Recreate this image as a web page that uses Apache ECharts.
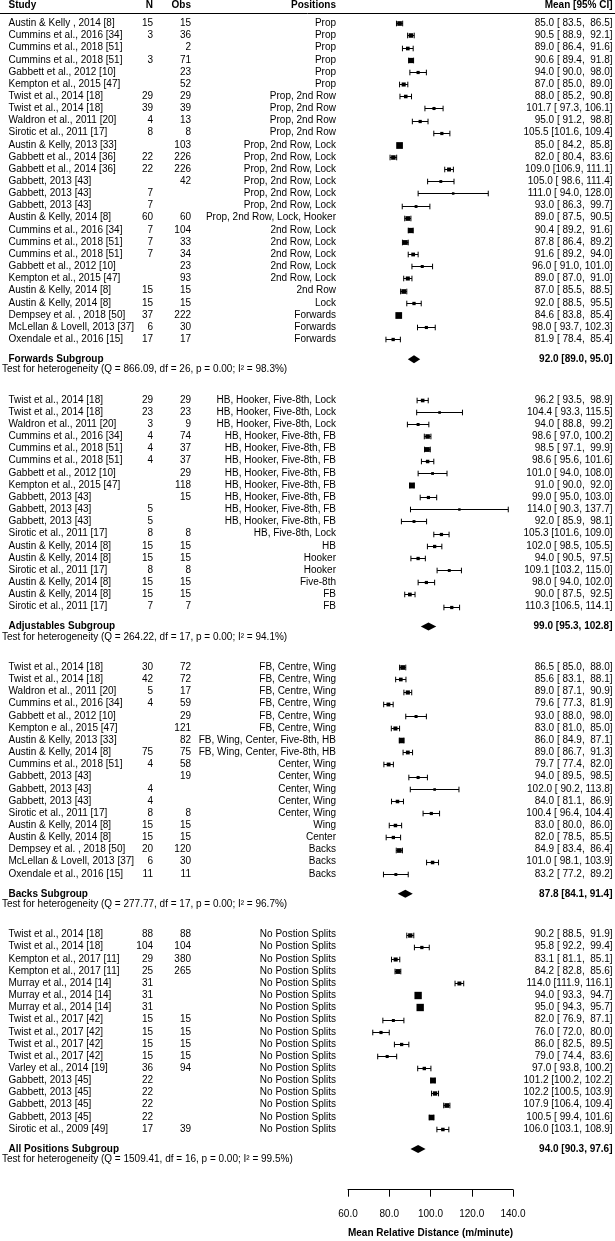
<!DOCTYPE html>
<html><head><meta charset="utf-8">
<script src="https://cdn.jsdelivr.net/npm/echarts@6/dist/echarts.min.js"></script>
<style>html,body{margin:0;padding:0;background:#fff}#c{width:615px;height:1241px}</style>
</head><body><div id="c"></div>
<script>
// ---------------- DATA ----------------
const headers = ['Study', 'N', 'Obs', 'Positions', 'Mean [95% CI]'];
const groupNames = ['Forwards Subgroup', 'Adjustables Subgroup', 'Backs Subgroup', 'All Positions Subgroup'];
const groupSizes = [27, 18, 18, 17];

const studies = [
  // Forwards
  'Austin & Kelly , 2014 [8]', 'Cummins et al., 2016 [34]', 'Cummins et al., 2018 [51]', 'Cummins et al., 2018 [51]',
  'Gabbett et al., 2012 [10]', 'Kempton et al., 2015 [47]', 'Twist et al., 2014 [18]', 'Twist et al., 2014 [18]',
  'Waldron et al., 2011 [20]', 'Sirotic et al., 2011 [17]', 'Austin & Kelly, 2013 [33]', 'Gabbett et al., 2014 [36]',
  'Gabbett et al., 2014 [36]', 'Gabbett, 2013 [43]', 'Gabbett, 2013 [43]', 'Gabbett, 2013 [43]',
  'Austin & Kelly, 2014 [8]', 'Cummins et al., 2016 [34]', 'Cummins et al., 2018 [51]', 'Cummins et al., 2018 [51]',
  'Gabbett et al., 2012 [10]', 'Kempton et al., 2015 [47]', 'Austin & Kelly, 2014 [8]', 'Austin & Kelly, 2014 [8]',
  'Dempsey et al. , 2018 [50]', 'McLellan & Lovell, 2013 [37]', 'Oxendale et al., 2016 [15]',
  // Adjustables
  'Twist et al., 2014 [18]', 'Twist et al., 2014 [18]', 'Waldron et al., 2011 [20]', 'Cummins et al., 2016 [34]',
  'Cummins et al., 2018 [51]', 'Cummins et al., 2018 [51]', 'Gabbett et al., 2012 [10]', 'Kempton et al., 2015 [47]',
  'Gabbett, 2013 [43]', 'Gabbett, 2013 [43]', 'Gabbett, 2013 [43]', 'Sirotic et al., 2011 [17]',
  'Austin & Kelly, 2014 [8]', 'Austin & Kelly, 2014 [8]', 'Sirotic et al., 2011 [17]', 'Austin & Kelly, 2014 [8]',
  'Austin & Kelly, 2014 [8]', 'Sirotic et al., 2011 [17]',
  // Backs
  'Twist et al., 2014 [18]', 'Twist et al., 2014 [18]', 'Waldron et al., 2011 [20]', 'Cummins et al., 2016 [34]',
  'Gabbett et al., 2012 [10]', 'Kempton e al., 2015 [47]', 'Austin & Kelly, 2013 [33]', 'Austin & Kelly, 2014 [8]',
  'Cummins et al., 2018 [51]', 'Gabbett, 2013 [43]', 'Gabbett, 2013 [43]', 'Gabbett, 2013 [43]',
  'Sirotic et al., 2011 [17]', 'Austin & Kelly, 2014 [8]', 'Austin & Kelly, 2014 [8]', 'Dempsey et al. , 2018 [50]',
  'McLellan & Lovell, 2013 [37]', 'Oxendale et al., 2016 [15]',
  // No position splits
  'Twist et al., 2014 [18]', 'Twist et al., 2014 [18]', 'Kempton et al., 2017 [11]', 'Kempton et al., 2017 [11]',
  'Murray et al., 2014 [14]', 'Murray et al., 2014 [14]', 'Murray et al., 2014 [14]', 'Twist et al., 2017 [42]',
  'Twist et al., 2017 [42]', 'Twist et al., 2017 [42]', 'Twist et al., 2017 [42]', 'Varley et al., 2014 [19]',
  'Gabbett, 2013 [45]', 'Gabbett, 2013 [45]', 'Gabbett, 2013 [45]', 'Gabbett, 2013 [45]',
  'Sirotic et al., 2009 [49]'
];

const nValues = [
  15, 3, '', 3, '', '', 29, 39, 4, 8, '', 22, 22, '', 7, 7, 60, 7, 7, 7, '', '', 15, 15, 37, 6, 17,
  29, 23, 3, 4, 4, 4, '', '', '', 5, 5, 8, 15, 15, 8, 15, 15, 7,
  30, 42, 5, 4, '', '', '', 75, 4, '', 4, 4, 8, 15, 15, 20, 6, 11,
  88, 104, 29, 25, 31, 31, 31, 15, 15, 15, 15, 36, 22, 22, 22, 22, 17
];

const obsValues = [
  15, 36, 2, 71, 23, 52, 29, 39, 13, 8, 103, 226, 226, 42, '', '', 60, 104, 33, 34, 23, 93, 15, 15, 222, 30, 17,
  29, 23, 9, 74, 37, 37, 29, 118, 15, '', '', 8, 15, 15, 8, 15, 15, 7,
  72, 72, 17, 59, 29, 121, 82, 75, 58, 19, '', '', 8, 15, 15, 120, 30, 11,
  88, 104, 380, 265, '', '', '', 15, 15, 15, 15, 94, '', '', '', '', 39
];

const P1 = 'Prop', P2 = 'Prop, 2nd Row', P3 = 'Prop, 2nd Row, Lock', P4 = '2nd Row, Lock';
const A1 = 'HB, Hooker, Five-8th, Lock', A2 = 'HB, Hooker, Five-8th, FB';
const B1 = 'FB, Centre, Wing', B2 = 'FB, Wing, Center, Five-8th, HB', B3 = 'Center, Wing';
const NP = 'No Postion Splits';
const positions = [
  P1, P1, P1, P1, P1, P1, P2, P2, P2, P2, P3, P3, P3, P3, P3, P3, 'Prop, 2nd Row, Lock, Hooker',
  P4, P4, P4, P4, P4, '2nd Row', 'Lock', 'Forwards', 'Forwards', 'Forwards',
  A1, A1, A1, A2, A2, A2, A2, A2, A2, A2, A2, 'HB, Five-8th, Lock', 'HB', 'Hooker', 'Hooker', 'Five-8th', 'FB', 'FB',
  B1, B1, B1, B1, B1, B1, B2, B2, B3, B3, B3, B3, B3, 'Wing', 'Center', 'Backs', 'Backs', 'Backs',
  NP, NP, NP, NP, NP, NP, NP, NP, NP, NP, NP, NP, NP, NP, NP, NP, NP
];

const means = [
  85.0, 90.5, 89.0, 90.6, 94.0, 87.0, 88.0, 101.7, 95.0, 105.5, 85.0, 82.0, 109.0, 105.0, 111.0, 93.0, 89.0,
  90.4, 87.8, 91.6, 96.0, 89.0, 87.0, 92.0, 84.6, 98.0, 81.9,
  96.2, 104.4, 94.0, 98.6, 98.5, 98.6, 101.0, 91.0, 99.0, 114.0, 92.0, 105.3, 102.0, 94.0, 109.1, 98.0, 90.0, 110.3,
  86.5, 85.6, 89.0, 79.6, 93.0, 83.0, 86.0, 89.0, 79.7, 94.0, 102.0, 84.0, 100.4, 83.0, 82.0, 84.9, 101.0, 83.2,
  90.2, 95.8, 83.1, 84.2, 114.0, 94.0, 95.0, 82.0, 76.0, 86.0, 79.0, 97.0, 101.2, 102.2, 107.9, 100.5, 106.0
];
const ciLower = [
  83.5, 88.9, 86.4, 89.4, 90.0, 85.0, 85.2, 97.3, 91.2, 101.6, 84.2, 80.4, 106.9, 98.6, 94.0, 86.3, 87.5,
  89.2, 86.4, 89.2, 91.0, 87.0, 85.5, 88.5, 83.8, 93.7, 78.4,
  93.5, 93.3, 88.8, 97.0, 97.1, 95.6, 94.0, 90.0, 95.0, 90.3, 85.9, 101.6, 98.5, 90.5, 103.2, 94.0, 87.5, 106.5,
  85.0, 83.1, 87.1, 77.3, 88.0, 81.0, 84.9, 86.7, 77.4, 89.5, 90.2, 81.1, 96.4, 80.0, 78.5, 83.4, 98.1, 77.2,
  88.5, 92.2, 81.1, 82.8, 111.9, 93.3, 94.3, 76.9, 72.0, 82.5, 74.4, 93.8, 100.2, 100.5, 106.4, 99.4, 103.1
];
const ciUpper = [
  86.5, 92.1, 91.6, 91.8, 98.0, 89.0, 90.8, 106.1, 98.8, 109.4, 85.8, 83.6, 111.1, 111.4, 128.0, 99.7, 90.5,
  91.6, 89.2, 94.0, 101.0, 91.0, 88.5, 95.5, 85.4, 102.3, 85.4,
  98.9, 115.5, 99.2, 100.2, 99.9, 101.6, 108.0, 92.0, 103.0, 137.7, 98.1, 109.0, 105.5, 97.5, 115.0, 102.0, 92.5, 114.1,
  88.0, 88.1, 90.9, 81.9, 98.0, 85.0, 87.1, 91.3, 82.0, 98.5, 113.8, 86.9, 104.4, 86.0, 85.5, 86.4, 103.9, 89.2,
  91.9, 99.4, 85.1, 85.6, 116.1, 94.7, 95.7, 87.1, 80.0, 89.5, 83.6, 100.2, 102.2, 103.9, 109.4, 101.6, 108.9
];

const subMeans = [92.0, 99.0, 87.8, 94.0];
const subLower = [89.0, 95.3, 84.1, 90.3];
const subUpper = [95.0, 102.8, 91.4, 97.6];
const hetQ = ['866.09', '264.22', '277.77', '1509.41'];
const hetDf = [26, 17, 17, 16];
const hetP = ['0.00', '0.00', '0.00', '0.00'];
const hetI2 = ['98.3', '94.1', '96.7', '99.5'];

const xTicks = [60, 80, 100, 120, 140];
const axisTitle = 'Mean Relative Distance (m/minute)';

// ---------------- LAYOUT ----------------
const W = 615, H = 1241;
const ROW0 = 23.3, ROWPX = 12.15;
const GAP = 5, SUB_OFF = 1.65, TEST_OFF = 2.5;
const GRID_LEFT = 348, GRID_W = 165;
const COL = { study: 8.5, n: 153, obs: 191, pos: 336, mean: 612.5, test: 2 };
const FS = 10, FONT = "'Liberation Sans', Arial, Helvetica, sans-serif";
const CAP = 2.8, DIAM = 4;

// row positions (in row units)
const studyRow = [];
const subRow = [];
let r = 0;
groupSizes.forEach((sz) => {
  for (let k = 0; k < sz; k++) { studyRow.push(r); r++; }
  const last = r - 1;
  subRow.push(last + SUB_OFF);
  r = last + GAP;
});
const axisRow = r;
const yMin = -ROW0 / ROWPX;
const gridH = ROW0 + axisRow * ROWPX;

// marker size from inverse CI width (study weights)
const wts = ciUpper.map((u, i) => 1 / (u - ciLower[i]));
const wMin = Math.min(...wts), wMax = Math.max(...wts);
const markerSize = wts.map(w => (0.5 + (w - wMin) / (wMax - wMin)) * 4.9);

const pad5 = v => v.toFixed(1).padStart(5, ' ');
const ciText = i => means[i].toFixed(1) + ' [' + pad5(ciLower[i]) + ', ' + pad5(ciUpper[i]) + ']';

function txt(x, y, s, align, bold) {
  return {
    type: 'text', x: x, y: y,
    style: { text: s, x: 0, y: 0, align: align, verticalAlign: 'middle',
             fontFamily: FONT, fontSize: FS, fontWeight: bold ? 'bold' : 'normal', fill: '#000' }
  };
}
const lineStyle = { stroke: '#000', lineWidth: 1 };

function renderStudy(params, api) {
  const i = params.dataIndex;
  const rv = api.value(0);
  const pe = api.coord([api.value(1), rv]);
  const pl = api.coord([api.value(2), rv]);
  const ph = api.coord([api.value(3), rv]);
  const y = pe[1];
  const yl = Math.round(y) + 0.5;
  const h = markerSize[i];
  return {
    type: 'group',
    children: [
      { type: 'line', shape: { x1: pl[0], y1: yl, x2: ph[0], y2: yl }, style: lineStyle },
      { type: 'line', shape: { x1: pl[0], y1: yl - CAP, x2: pl[0], y2: yl + CAP }, style: lineStyle },
      { type: 'line', shape: { x1: ph[0], y1: yl - CAP, x2: ph[0], y2: yl + CAP }, style: lineStyle },
      { type: 'rect', shape: { x: pe[0] - h / 2, y: yl - h / 2, width: h, height: h }, style: { fill: '#000' } },
      txt(COL.study, y, studies[i], 'left', false),
      txt(COL.n, y, String(nValues[i]), 'right', false),
      txt(COL.obs, y, String(obsValues[i]), 'right', false),
      txt(COL.pos, y, positions[i], 'right', false),
      txt(COL.mean, y, ciText(i), 'right', false)
    ]
  };
}

function renderSub(params, api) {
  const g = params.dataIndex;
  const rv = api.value(0);
  const pe = api.coord([api.value(1), rv]);
  const pl = api.coord([api.value(2), rv]);
  const ph = api.coord([api.value(3), rv]);
  const y = pe[1];
  const yt = api.coord([api.value(1), rv + (TEST_OFF - SUB_OFF)])[1];
  const label = subMeans[g].toFixed(1) + ' [' + subLower[g].toFixed(1) + ', ' + subUpper[g].toFixed(1) + ']';
  const test = 'Test for heterogeneity (Q = ' + hetQ[g] + ', df = ' + hetDf[g] + ', p = ' + hetP[g] +
               '; I\u00B2 = ' + hetI2[g] + '%)';
  return {
    type: 'group',
    children: [
      { type: 'polygon', shape: { points: [[pl[0], y], [pe[0], y - DIAM], [ph[0], y], [pe[0], y + DIAM]] },
        style: { fill: '#000' } },
      txt(COL.study, y, groupNames[g], 'left', true),
      txt(COL.mean, y, label, 'right', true),
      txt(COL.test, yt, test, 'left', false)
    ]
  };
}

const studyData = studies.map((s, i) => [studyRow[i], means[i], ciLower[i], ciUpper[i]]);
const subData = groupNames.map((s, g) => [subRow[g], subMeans[g], subLower[g], subUpper[g]]);

const headerY = 5;
const headerCols = [COL.study, COL.n, COL.obs, COL.pos, COL.mean];
const headerAlign = ['left', 'right', 'right', 'right', 'right'];
const graphics = [
  { type: 'line', silent: true, shape: { x1: 0, y1: 13.5, x2: W, y2: 13.5 }, style: lineStyle }
].concat(headers.map((h, k) => Object.assign(txt(headerCols[k], headerY, h, headerAlign[k], true), { silent: true })))
 .concat([Object.assign(txt(GRID_LEFT + GRID_W / 2, 1233, axisTitle, 'center', true), { silent: true })]);

const chart = echarts.init(document.getElementById('c'), null, { renderer: 'canvas', width: W, height: H });
chart.setOption({
  backgroundColor: '#fff',
  animation: false,
  grid: { left: GRID_LEFT, top: 0, width: GRID_W, height: gridH, containLabel: false },
  xAxis: {
    type: 'value', min: xTicks[0], max: xTicks[xTicks.length - 1], interval: 20,
    position: 'bottom',
    axisLine: { show: true, onZero: false, lineStyle: { color: '#000', width: 1 } },
    axisTick: { show: true, length: 7, lineStyle: { color: '#000', width: 1 } },
    axisLabel: { margin: 20, color: '#000', fontSize: FS, fontFamily: FONT,
                 formatter: v => v.toFixed(1) },
    splitLine: { show: false }
  },
  yAxis: { type: 'value', inverse: true, min: yMin, max: axisRow, show: false, splitLine: { show: false } },
  graphic: graphics,
  series: [
    { type: 'custom', name: 'studies', coordinateSystem: 'cartesian2d', silent: true, clip: false,
      encode: { x: [1, 2, 3], y: 0 }, data: studyData, renderItem: renderStudy },
    { type: 'custom', name: 'subgroups', coordinateSystem: 'cartesian2d', silent: true, clip: false,
      encode: { x: [1, 2, 3], y: 0 }, data: subData, renderItem: renderSub }
  ]
});
</script></body></html>
